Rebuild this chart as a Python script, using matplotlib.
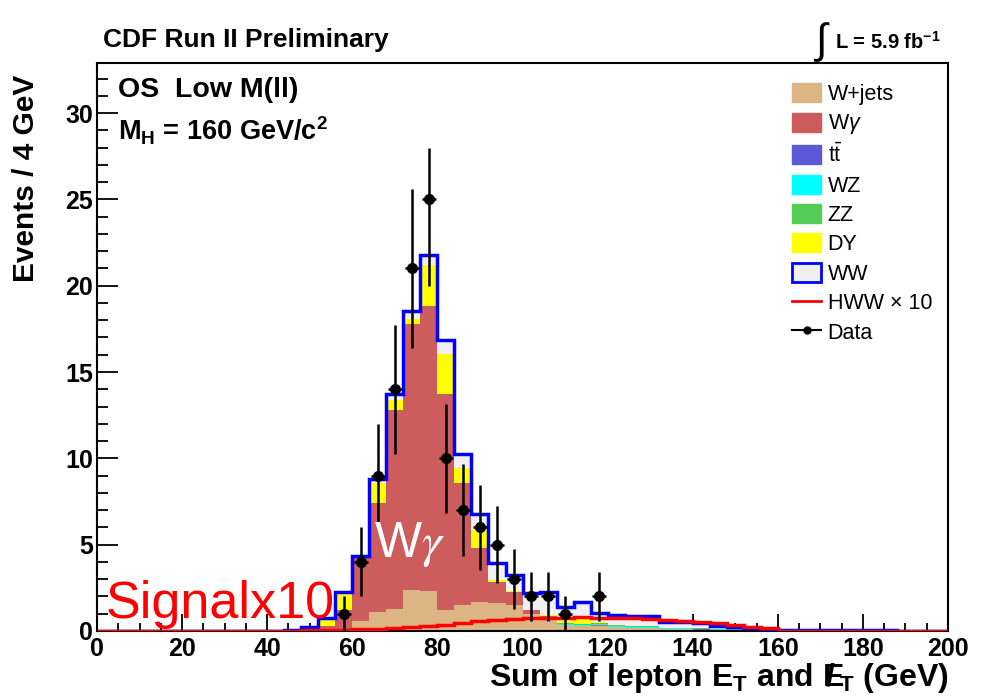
import numpy as np
import matplotlib
matplotlib.use('Agg')
import matplotlib.pyplot as plt
from matplotlib.patches import Patch
from matplotlib.lines import Line2D
from matplotlib.ticker import MultipleLocator

plt.rcParams['font.family'] = ['Liberation Sans', 'DejaVu Sans']
plt.rcParams['mathtext.fontset'] = 'custom'
plt.rcParams['mathtext.rm'] = 'Liberation Sans'
plt.rcParams['mathtext.bf'] = 'Liberation Sans:bold'
plt.rcParams['mathtext.it'] = 'Liberation Sans:italic'

# 4 GeV bins; the lists below start at the 44-48 GeV bin and run up to 200 GeV
bin_width = 4
first_edge = 44

wjets = [0, 0, 0, 0, 0.6, 1.1, 1.3, 2.4, 2.3, 1.2, 1.5, 1.7, 1.6, 1.5, 1.0, 0.8,
         0.35, 0.3, 0.3, 0.25, 0.2, 0.2, 0.1, 0.1, 0.08, 0.05, 0.04, 0.03, 0.02,
         0, 0, 0, 0, 0, 0, 0, 0, 0, 0]
wgamma = [0, 0.05, 0.3, 1.2, 3.6, 6.3, 11.5, 15.36, 16.5, 12.5, 7.05, 3.1, 1.25, 0.78,
          0.2, 0.05, 0, 0, 0.05, 0, 0, 0, 0, 0, 0, 0, 0, 0, 0,
          0, 0, 0, 0, 0, 0, 0, 0, 0, 0]
ttbar = [0, 0, 0, 0, 0, 0, 0, 0, 0, 0, 0, 0, 0, 0, 0, 0, 0, 0, 0, 0, 0, 0,
         0.02, 0.02, 0.02, 0.02, 0.02, 0.02, 0.01,
         0.02, 0.02, 0.02, 0.02, 0.02, 0.02, 0.02, 0, 0, 0]
wz = [0, 0, 0, 0, 0, 0, 0, 0, 0, 0, 0, 0, 0, 0, 0, 0,
      0.05, 0.05, 0.05, 0.05, 0.05, 0.05, 0.04, 0.04, 0.03, 0.02, 0.02, 0.01, 0.01,
      0, 0, 0, 0, 0, 0, 0, 0, 0, 0]
zz = [0, 0, 0, 0, 0, 0, 0, 0, 0, 0, 0, 0, 0, 0, 0, 0,
      0.05, 0.05, 0.05, 0.05, 0.05, 0.05, 0.04, 0.04, 0.03, 0.02, 0.02, 0.01, 0.01,
      0, 0, 0, 0, 0, 0, 0, 0, 0, 0]
dy = [0.05, 0.15, 0.45, 1.0, 0.05, 1.2, 0.6, 0.3, 2.4, 2.36, 0.87, 1.05, 0.1, 0.05,
      0, 0.1, 0.1, 0.4, 0.05, 0, 0, 0, 0, 0, 0, 0, 0, 0, 0,
      0, 0, 0, 0, 0, 0, 0, 0, 0, 0]
ww = [0.03, 0.05, 0.03, 0.05, 0.1, 0.2, 0.3, 0.5, 0.6, 0.77, 0.83, 0.95, 1.0, 0.9,
      1.0, 1.3, 0.86, 0.9, 0.52, 0.55, 0.57, 0.57, 0.34, 0.34, 0.28, 0.2, 0.15, 0.12,
      0.07, 0.01, 0.01, 0.01, 0.01, 0.01, 0.01, 0.01, 0, 0, 0]
hww_x10 = [0.02, 0.04, 0.06, 0.08, 0.1, 0.13, 0.17, 0.22, 0.27, 0.36, 0.45, 0.55, 0.62,
           0.68, 0.73, 0.76, 0.78, 0.79, 0.78, 0.76, 0.73, 0.69, 0.64, 0.6, 0.54, 0.44,
           0.35, 0.25, 0.16, 0, 0, 0, 0, 0, 0, 0, 0, 0, 0]

data_x = [58, 62, 66, 70, 74, 78, 82, 86, 90, 94, 98, 102, 106, 110, 118]
data_y = [1, 4, 9, 14, 21, 25, 10, 7, 6, 5, 3, 2, 2, 1, 2]
data_err_dn = [1, 2, 3, 3.74, 4.58, 5, 3.16, 2.65, 2.45, 2.24, 1.73, 1.41, 1.41, 1, 1.41]
data_err_up = [1, 2, 3, 3.74, 4.58, 3, 3.16, 2.65, 2.45, 2.24, 1.73, 1.41, 1.41, 1, 1.41]

edges = np.arange(0, 200 + bin_width, bin_width)
n_lead = first_edge // bin_width


def full(vals):
    return np.concatenate([np.zeros(n_lead), np.array(vals, dtype=float)])


fig = plt.figure(figsize=(9.97, 7), dpi=100)
ax = fig.add_axes([0.0973, 0.0986, 0.8536, 0.8114])

stack = [
    (wjets, '#dbb583', 'W+jets'),
    (wgamma, '#cd5c5c', r'W$\gamma$'),
    (ttbar, '#5a5ad8', r'$\mathrm{t\bar{t}}$'),
    (wz, '#00ffff', 'WZ'),
    (zz, '#55cc55', 'ZZ'),
    (dy, '#ffff00', 'DY'),
    (ww, '#f0f0f0', 'WW'),
]
base = np.zeros(len(edges) - 1)
for vals, col, lab in stack:
    v = full(vals)
    ax.stairs(base + v, edges, baseline=base, fill=True, color=col, lw=0, zorder=2)
    base = base + v
ax.stairs(base, edges, baseline=None, color='blue', lw=2.5, zorder=3)
ax.stairs(full(hww_x10), edges, baseline=None, color='red', lw=2.5, zorder=4)

ax.errorbar(data_x, data_y, yerr=[data_err_dn, data_err_up], xerr=1.6, fmt='o',
            color='k', ms=7, elinewidth=1.8, capsize=0, zorder=5)

ax.set_xlim(0, 200)
ax.set_ylim(0, 32.9)
ax.xaxis.set_major_locator(MultipleLocator(20))
ax.xaxis.set_minor_locator(MultipleLocator(5))
ax.yaxis.set_major_locator(MultipleLocator(5))
ax.yaxis.set_minor_locator(MultipleLocator(1))
ax.tick_params(axis='both', which='both', direction='in', top=False, right=False,
               width=1.3, labelsize=18)
ax.tick_params(axis='x', which='major', length=12, pad=4)
ax.tick_params(axis='x', which='minor', length=6)
ax.tick_params(axis='y', which='major', length=15, pad=3)
ax.tick_params(axis='y', which='minor', length=8)
for lab in ax.get_xticklabels() + ax.get_yticklabels():
    lab.set_fontweight('bold')
for sp in ax.spines.values():
    sp.set_linewidth(1.5)

ax.set_xlabel(r"Sum of lepton $\mathbf{E}_\mathbf{T}$ and $\mathbf{E}\!\!\!\!\mathbf{/}\,{}_\mathbf{T}$ (GeV)",
              loc='right', fontsize=23, fontweight='bold', labelpad=0)
ax.set_ylabel('Events / 4 GeV', loc='top', fontsize=21.5, fontweight='bold')
ax.yaxis.set_label_coords(-0.067, 0.98)

fig.text(0.103, 0.943, 'CDF Run II Preliminary', fontsize=19, fontweight='bold',
         va='center', ha='left')
fig.text(0.818, 0.94, '\u222b', fontsize=30, va='center', ha='left')
fig.text(0.838, 0.94, r'L = 5.9 fb$^{\mathbf{-1}}$', fontsize=14.5, fontweight='bold',
         va='center', ha='left')
ax.text(0.025, 0.952, 'OS  Low M(ll)', transform=ax.transAxes, fontsize=20.5,
        fontweight='bold', va='center', ha='left')
ax.text(0.025, 0.88, r'$\mathbf{M}_\mathbf{H}$ = 160 GeV/c$^\mathbf{2}$',
        transform=ax.transAxes, fontsize=19.5, fontweight='bold', va='center', ha='left')

ax.text(2, 0.75, 'Signalx10', color='red', fontsize=37.5, va='baseline', ha='left', zorder=6)
ax.text(65, 4.3, r'W$\gamma$', color='white', fontsize=36, va='baseline', ha='left',
        math_fontfamily='stix', zorder=6)

handles = [Patch(facecolor=c, edgecolor=c) for _, c, _ in stack[:-1]]
handles.append(Patch(facecolor='#f0f0f0', edgecolor='blue', lw=2))
handles.append(Line2D([], [], color='red', lw=2))
handles.append(Line2D([], [], color='k', marker='o', ms=5, lw=1.5))
labels = [lab for _, _, lab in stack] + ['HWW \u00d7 10', 'Data']
ax.legend(handles, labels, loc='upper left', bbox_to_anchor=(792 / 997, 1 - 83 / 700),
          bbox_transform=fig.transFigure, frameon=False, fontsize=15.5,
          handlelength=1.35, handleheight=0.98, handletextpad=0.3, labelspacing=0.35,
          borderpad=0, borderaxespad=0)

fig.savefig('out.png', dpi=100)
